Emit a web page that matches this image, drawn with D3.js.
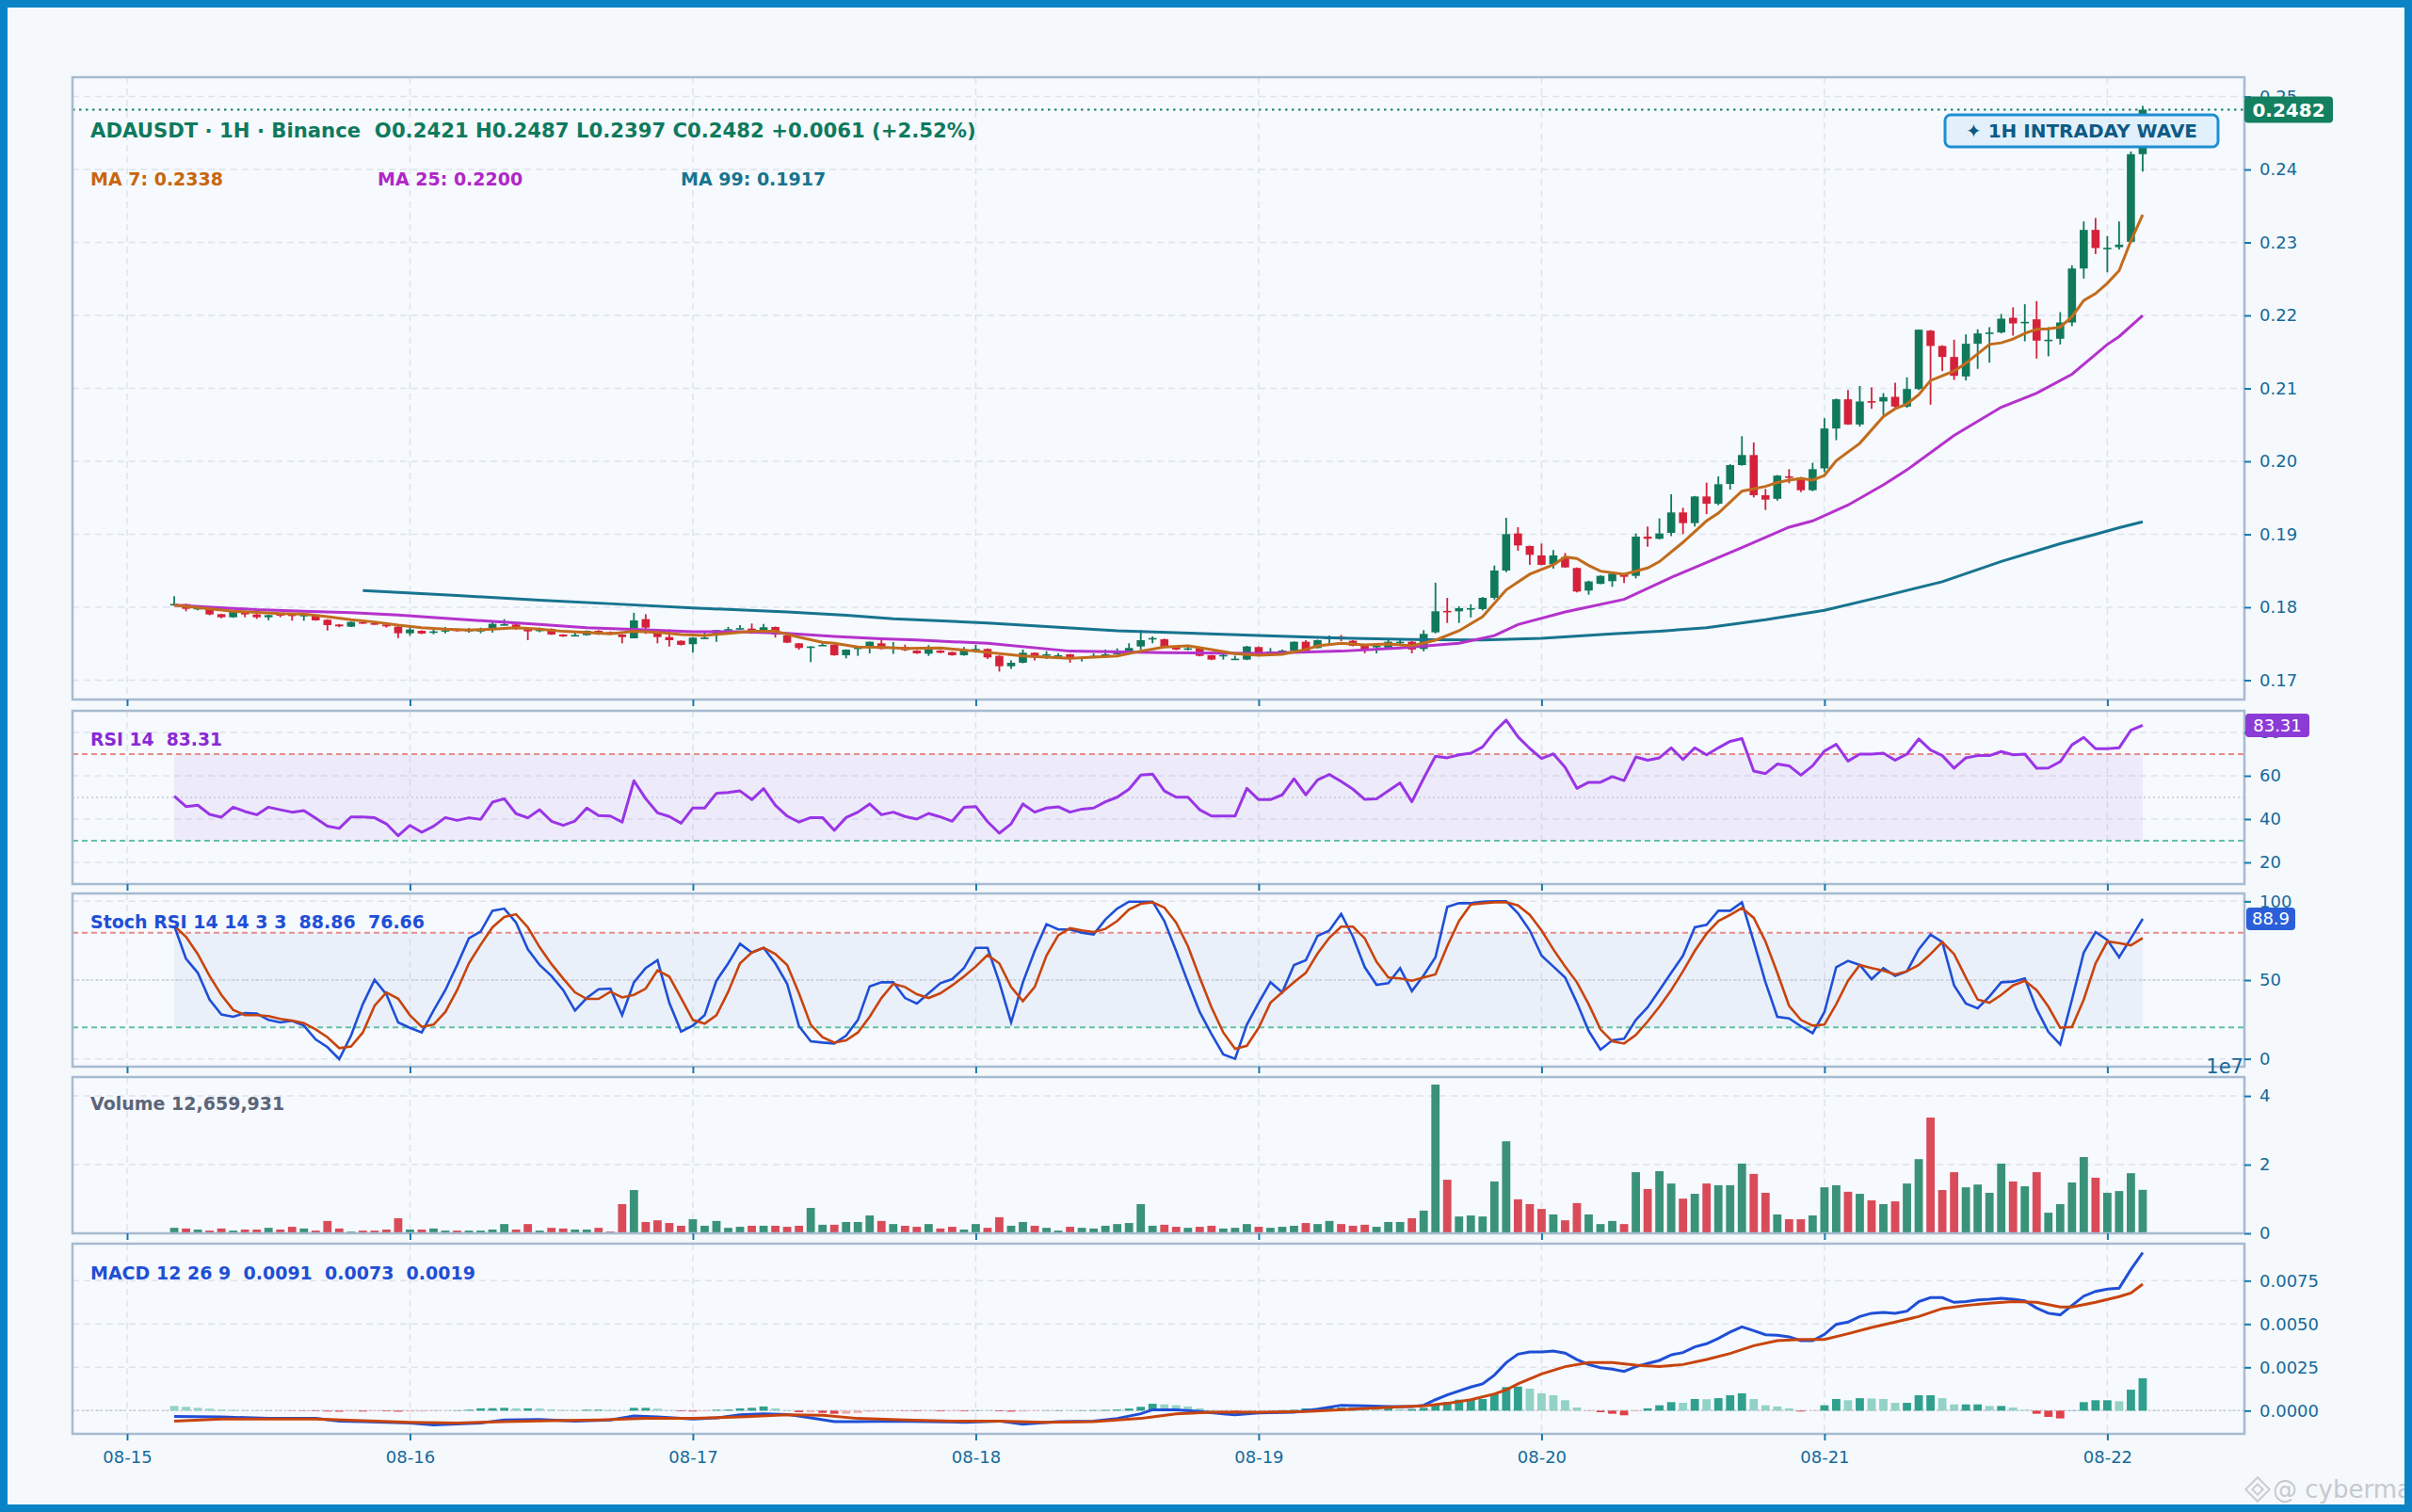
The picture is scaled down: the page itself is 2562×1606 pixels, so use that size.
<!DOCTYPE html>
<html>
<head>
<meta charset="utf-8">
<script src="https://cdn.jsdelivr.net/npm/d3@7"></script>
<style>
body { margin:0; background:#f5f9fc; }
svg { display:block; font-family:"DejaVu Sans", sans-serif; }
</style>
</head>
<body>
<svg id="chart" width="2562" height="1606"></svg>
<script>
// ---- data (hourly candles, 08-15 04:00 -> 08-22 03:00) ----
var dayLabels = ["08-15","08-16","08-17","08-18","08-19","08-20","08-21","08-22"];
var firstHour = 4;

var opens = [0.18035,0.18043,0.17975,0.17978,0.17905,0.17862,0.17944,0.17901,0.17862,0.17905,
0.179,0.1789,0.17892,0.17828,0.17763,0.17733,0.17795,0.1778,0.17763,0.17733,
0.17643,0.17677,0.17652,0.17682,0.177,0.17688,0.17684,0.177,0.17763,0.17763,
0.177,0.17688,0.17703,0.17626,0.17615,0.17617,0.17677,0.17659,0.17626,0.17574,
0.17837,0.17643,0.17591,0.1754,0.17493,0.17578,0.17613,0.17695,0.1771,0.17707,
0.17673,0.17729,0.17613,0.17505,0.17458,0.17479,0.17484,0.17342,0.17443,0.17454,
0.17505,0.17452,0.17454,0.17406,0.17363,0.17406,0.17385,0.17342,0.17424,0.17428,
0.17333,0.17191,0.17239,0.17376,0.1734,0.1734,0.17355,0.1729,0.17329,0.17333,
0.17355,0.17376,0.17462,0.17574,0.17561,0.17454,0.17434,0.17437,0.17342,0.1734,
0.1729,0.17282,0.17454,0.1739,0.17376,0.17406,0.17527,0.1744,0.17578,0.17595,
0.1754,0.17471,0.17467,0.17441,0.17524,0.17527,0.17428,0.17656,0.1795,0.17944,
0.17983,0.17975,0.18129,0.18503,0.19011,0.18839,0.1871,0.18589,0.18688,0.18538,
0.18228,0.1832,0.18357,0.18451,0.1843,0.18968,0.18938,0.19019,0.19299,0.19153,
0.19518,0.19419,0.1969,0.19948,0.20086,0.19535,0.19486,0.19794,0.19776,0.19604,
0.19903,0.2045,0.2085,0.20505,0.20825,0.2082,0.20884,0.2075,0.20991,0.21791,
0.21581,0.2143,0.21163,0.21611,0.2176,0.21766,0.21968,0.21905,0.21946,0.21663,
0.2168,0.21903,0.22643,0.23172,0.22923,0.22935,0.23009,0.2421];

var highs = [0.1815,0.18048,0.18,0.1799,0.1791,0.1794,0.1795,0.1791,0.17896,0.1792,
0.17905,0.1792,0.17898,0.17835,0.1777,0.17802,0.1782,0.178,0.1777,0.1774,
0.1773,0.17685,0.177,0.1773,0.17708,0.17715,0.1772,0.17794,0.17837,0.1777,
0.17705,0.1772,0.1771,0.1763,0.17665,0.17682,0.17685,0.17668,0.1763,0.17923,
0.17905,0.17677,0.17695,0.17545,0.1759,0.17655,0.1769,0.1773,0.17755,0.17776,
0.1777,0.17735,0.1762,0.1751,0.17466,0.17527,0.1749,0.17422,0.17462,0.1753,
0.17565,0.17522,0.17488,0.17412,0.1748,0.17412,0.1739,0.17454,0.17484,0.17435,
0.1734,0.17269,0.1742,0.1738,0.17398,0.1737,0.1736,0.1732,0.17368,0.1742,
0.17437,0.17506,0.17686,0.176,0.1757,0.1746,0.17465,0.17442,0.17346,0.17362,
0.17335,0.1747,0.1746,0.1744,0.1742,0.1753,0.17548,0.17555,0.17613,0.17621,
0.17548,0.17478,0.17478,0.17548,0.17565,0.17535,0.17686,0.18335,0.18129,0.18013,
0.1804,0.1814,0.18572,0.19226,0.19097,0.18845,0.18873,0.18783,0.18744,0.18545,
0.18365,0.18435,0.18468,0.1846,0.19011,0.19105,0.19217,0.19548,0.19363,0.19525,
0.19707,0.19794,0.1996,0.20344,0.20258,0.19622,0.19812,0.19892,0.19785,0.19978,
0.20591,0.2086,0.20978,0.21032,0.21013,0.20935,0.21077,0.21151,0.21808,0.218,
0.2159,0.21667,0.2174,0.21809,0.21839,0.2202,0.2211,0.22153,0.22196,0.21839,
0.22045,0.22686,0.23288,0.23335,0.23086,0.23288,0.24247,0.2487];

var lows = [0.1802,0.17944,0.17957,0.1789,0.17849,0.17855,0.17862,0.1784,0.1782,0.17862,
0.17815,0.17815,0.17815,0.1768,0.17725,0.17728,0.1777,0.1776,0.1772,0.17578,
0.1761,0.17632,0.1763,0.1764,0.17665,0.17652,0.17643,0.17652,0.1775,0.17695,
0.17548,0.17657,0.1762,0.17593,0.176,0.1761,0.1762,0.1764,0.17505,0.17574,
0.17634,0.17505,0.17462,0.17475,0.17376,0.17574,0.17527,0.17677,0.17695,0.17635,
0.17665,0.17583,0.17508,0.17419,0.17247,0.17475,0.17335,0.17299,0.17333,0.17367,
0.17422,0.1736,0.174,0.1736,0.17333,0.1737,0.17335,0.17335,0.17376,0.1729,
0.17118,0.17153,0.17232,0.17269,0.1729,0.17305,0.17239,0.17256,0.17325,0.17306,
0.1735,0.1737,0.1742,0.17505,0.17445,0.17412,0.1741,0.17326,0.17275,0.17282,
0.17278,0.17275,0.17348,0.17355,0.17368,0.174,0.174,0.17435,0.17484,0.17535,
0.17465,0.17368,0.17368,0.17435,0.17484,0.17368,0.17395,0.1764,0.17785,0.17785,
0.1786,0.17957,0.18105,0.1848,0.18774,0.18581,0.18575,0.18529,0.1854,0.18202,
0.18172,0.18315,0.1828,0.18331,0.18395,0.1883,0.1893,0.18975,0.19002,0.19105,
0.19277,0.19398,0.19613,0.1994,0.19505,0.19333,0.19461,0.19699,0.19578,0.1959,
0.19849,0.2029,0.205,0.20475,0.2072,0.20634,0.2073,0.20733,0.20978,0.20776,
0.21237,0.21116,0.21108,0.21267,0.21353,0.21753,0.21723,0.21645,0.21409,0.21439,
0.21602,0.21852,0.22505,0.22841,0.22591,0.22905,0.2299,0.2397];

var closes = [0.18045,0.17978,0.1799,0.17901,0.17862,0.17935,0.17901,0.17862,0.17892,0.179,
0.17892,0.17895,0.1782,0.17755,0.17738,0.17798,0.1779,0.17775,0.17738,0.17643,
0.17695,0.17639,0.17669,0.17686,0.17673,0.1769,0.17688,0.17772,0.17767,0.177,
0.17669,0.17692,0.17626,0.176,0.17619,0.17677,0.17626,0.17655,0.17591,0.1782,
0.1772,0.17591,0.17548,0.17484,0.17583,0.17583,0.17686,0.177,0.17713,0.17643,
0.17725,0.17626,0.17514,0.17441,0.17462,0.17484,0.17342,0.17419,0.17447,0.17527,
0.17428,0.17457,0.17411,0.17368,0.1742,0.17376,0.17342,0.17406,0.17428,0.17312,
0.17191,0.17239,0.17376,0.17312,0.17355,0.17342,0.1729,0.17312,0.17333,0.17355,
0.17376,0.17441,0.17548,0.17578,0.17454,0.1742,0.17437,0.17333,0.17282,0.17346,
0.17295,0.17462,0.17355,0.17394,0.17406,0.17527,0.17406,0.17548,0.17583,0.1759,
0.17471,0.1742,0.17471,0.17527,0.17527,0.1742,0.17634,0.17944,0.17944,0.17987,
0.17987,0.18129,0.18503,0.19002,0.18847,0.18718,0.18581,0.1871,0.18546,0.18215,
0.18353,0.1843,0.1846,0.18417,0.18968,0.18938,0.19011,0.19299,0.19153,0.19518,
0.19419,0.19686,0.19948,0.20086,0.19535,0.19475,0.19804,0.19776,0.19604,0.19892,
0.2045,0.2085,0.20505,0.2082,0.2082,0.2088,0.2075,0.20991,0.21804,0.21581,
0.2143,0.21172,0.21611,0.21753,0.21766,0.21955,0.2189,0.21912,0.21654,0.21667,
0.21903,0.22643,0.23172,0.22923,0.22927,0.2297,0.2421,0.2482];

// volume in millions
var volumes = [1.6,1.4,1.1,0.8,1.4,0.8,1.1,1.1,1.6,1.1,
1.9,1.4,0.8,3.6,1.4,0.5,0.8,0.8,1.1,4.4,
1.1,1.1,1.4,0.8,0.8,0.8,0.8,1.1,2.7,1.1,
2.7,0.8,1.6,1.4,1.1,1.1,1.6,0.5,8.5,12.6,
3.3,3.8,3.0,2.2,4.1,2.2,3.6,1.6,1.9,2.2,
2.2,2.2,1.9,2.2,7.4,2.5,2.5,3.3,3.3,5.2,
3.6,2.7,2.2,1.9,2.7,1.4,1.9,1.1,2.7,1.6,
4.7,2.2,3.3,2.2,1.6,0.8,1.9,1.6,1.4,2.2,
2.7,3.0,8.5,2.2,2.5,1.9,1.6,1.9,2.2,1.4,
1.6,2.7,1.9,1.6,1.9,2.2,3.0,2.7,3.6,2.7,
2.2,2.5,1.9,3.3,3.3,4.4,6.6,43.3,15.6,4.9,
5.2,4.9,15.1,26.8,9.9,8.5,7.1,5.5,3.8,8.8,
5.5,2.7,3.6,2.7,17.8,12.9,18.1,14.5,10.1,11.5,
14.5,14.0,14.0,20.3,17.3,11.8,5.5,4.1,4.1,5.2,
13.4,14.0,12.1,11.5,9.6,8.5,9.3,14.5,21.6,33.7,
12.6,17.8,13.4,14.2,11.8,20.3,15.1,13.7,17.8,6.0,
8.5,14.8,22.2,16.2,11.8,12.3,17.5,12.66];

// moving averages [candle index, value]
var ma7 = [[0,0.1803],[5,0.17944],[9,0.17914],[11,0.17905],[13,0.17871],[15,0.17828],[17,0.17798],[19,0.17755],
[21,0.1772],[23,0.17699],[25,0.17686],[27,0.17699],[29,0.1772],[31,0.17699],[33,0.17669],[35,0.17656],[37,0.17634],
[39,0.17669],[41,0.17656],[43,0.17626],[45,0.17613],[47,0.17643],[49,0.17669],[51,0.17669],[53,0.17591],[55,0.1752],
[56,0.17505],[58,0.17454],[60,0.1745],[62,0.17435],[65,0.17441],[68,0.17398],[72,0.17333],[76,0.17299],[80,0.17333],
[82,0.17398],[84,0.17455],[86,0.17471],[88,0.1742],[90,0.17363],[92,0.17342],[94,0.17355],[96,0.1742],[97,0.17471],
[99,0.17505],[101,0.17484],[103,0.17497],[105,0.17471],[107,0.17548],[109,0.17677],[111,0.17871],[113,0.18237],
[115,0.18452],[117,0.18581],[118,0.18688],[119,0.18667],[120,0.18572],[121,0.18495],[123,0.18452],[125,0.18538],
[126,0.18624],[128,0.1889],[130,0.19183],[131,0.1929],[133,0.19591],[135,0.19656],[136,0.1971],[137,0.19742],
[138,0.19763],[139,0.19742],[140,0.19806],[141,0.2001],[143,0.20247],[145,0.20613],[146,0.2072],[147,0.20785],
[148,0.20914],[149,0.21108],[150,0.21172],[151,0.21237],[152,0.21344],[153,0.21473],[154,0.21602],[155,0.21624],
[156,0.21675],[157,0.21753],[158,0.21809],[159,0.21817],[160,0.21839],[161,0.21981],[162,0.22204],[163,0.22299],
[164,0.22441],[165,0.22613],[166,0.23022],[167,0.2338]];
var ma25 = [[0,0.1803],[7,0.17966],[11,0.17944],[15,0.17927],[19,0.17892],[23,0.17849],[27,0.17806],[31,0.17763],
[35,0.1772],[40,0.1769],[44,0.17665],[48,0.17665],[52,0.17643],[56,0.176],[60,0.17566],[63,0.1755],[69,0.17505],
[76,0.17398],[84,0.17376],[92,0.17368],[99,0.17398],[104,0.17441],[107,0.1748],[109,0.17505],[112,0.1761],
[114,0.17763],[118,0.17935],[123,0.18108],[127,0.18409],[133,0.18817],[137,0.19097],[139,0.19183],[142,0.194],
[145,0.19677],[147,0.19882],[151,0.20355],[155,0.20742],[158,0.20935],[161,0.21194],[164,0.21602],[165,0.2171],[167,0.22]];
var ma99 = [[16,0.18228],[24,0.1816],[31,0.18095],[38,0.1804],[44,0.1799],[52,0.17935],[57,0.1789],[61,0.17841],
[69,0.17785],[80,0.17677],[92,0.17613],[99,0.17578],[105,0.17557],[111,0.17552],[116,0.17575],[122,0.17634],
[126,0.1767],[130,0.1772],[135,0.17828],[140,0.17957],[145,0.1815],[150,0.1835],[155,0.18627],[160,0.1887],
[163,0.19],[165,0.1909],[167,0.1917]];

var rsi = [50.6,45.8,46.4,42.2,40.9,45.5,43.5,42.0,45.5,44.3,
43.2,43.9,40.4,36.7,35.7,41.0,41.0,40.6,37.8,32.3,
37.1,33.9,36.7,40.7,39.4,40.6,39.9,47.8,49.4,42.5,
40.6,44.3,39.0,37.1,39.1,45.1,41.6,41.4,38.6,57.7,
49.4,42.9,41.2,38.1,45.1,45.1,51.9,52.3,53.0,49.0,
54.1,46.4,41.4,38.6,40.7,40.7,34.8,40.7,43.2,47.0,
42.0,43.2,41.2,40.0,42.6,41.0,39.0,45.4,45.8,38.8,
33.5,37.8,47.0,43.2,45.1,45.7,43.2,44.6,45.1,48.0,
50.1,53.8,60.3,60.8,53.0,50.1,50.1,44.3,41.4,41.4,
41.4,54.2,49.0,49.0,51.2,58.6,51.2,58.1,60.6,57.4,
53.8,49.1,49.4,53.0,56.7,48.0,58.8,69.0,68.3,69.7,
70.4,73.3,80.3,85.7,78.0,72.6,68.0,70.1,63.9,54.2,
57.0,57.0,59.6,57.8,68.7,67.2,68.3,72.9,67.5,72.9,
69.7,72.9,75.9,77.2,62.2,61.0,65.4,64.6,60.3,64.6,
71.4,74.5,66.8,70.0,70.0,70.4,67.2,70.0,77.0,71.9,
69.3,63.5,68.3,69.3,69.3,71.2,69.7,70.0,63.5,63.6,
66.5,74.3,77.7,72.5,72.5,72.9,81.0,83.31];

var stochK = [84.5,63.5,54.6,37.6,28.1,26.7,29.1,28.7,24.7,23.1,
24.1,21.1,12.3,7.4,-0.2,14.7,34.7,50.2,41.0,23.1,
19.7,16.7,30.7,43.6,59.6,76.5,80.9,94.0,95.4,86.5,
69.5,59.6,52.6,43.6,30.7,38.6,44.2,44.6,27.7,48.6,
57.6,62.6,35.6,17.3,21.1,27.7,49.6,60.6,73.1,67.5,
70.5,60.6,47.6,20.7,11.1,10.3,9.7,14.7,24.7,46.0,
48.6,48.6,38.6,35.1,41.6,48.0,50.6,57.6,70.5,70.5,
48.6,23.1,48.6,68.5,85.5,82.1,82.1,80.1,78.9,88.5,
95.4,99.8,99.8,99.8,87.5,68.5,48.6,29.7,15.7,2.8,
0,21.7,35.6,48.6,42.2,59.6,62.6,78.1,81.5,92.0,
77.5,58.2,47.0,48.0,57.6,43.0,53.0,64.5,96.4,98.8,
98.8,99.8,100,100,92.4,81.5,65.5,58.6,51.6,35.6,
17.7,5.8,11.7,12.7,24.7,32.7,43.6,54.6,65.5,83.5,
85.1,94.0,94.0,99.4,74.5,48.6,26.7,25.7,20.7,16.3,
29.7,58.2,62.2,59.6,50.6,57.6,52.6,55.6,69.5,78.9,
74.1,46.6,35.1,32.1,39.6,48.6,49.0,51.0,31.7,17.1,
9.1,37.6,67.5,80.5,75.5,64.5,76.5,88.86];

var stochD = [84.5,77.5,66.5,52.6,40.6,31.1,27.7,27.7,27.1,25.3,
24.3,22.7,18.7,13.7,6.8,7.8,16.7,33.7,42.2,38.2,
27.7,20.3,21.7,29.7,43.6,60.6,72.5,83.5,90.1,91.8,
83.5,70.9,60.2,51.0,42.2,38.0,38.0,42.6,39.0,40.6,
44.6,56.2,52.2,38.6,24.7,22.3,27.7,42.6,60.6,67.5,
70.5,66.5,59.6,41.6,21.7,13.7,10.3,11.7,16.7,26.7,
38.6,47.6,45.6,41.0,38.6,41.6,46.6,52.2,58.6,65.9,
60.6,45.6,36.6,45.6,65.5,78.5,82.9,81.5,80.5,82.5,
87.5,94.8,98.4,99.4,96.0,86.5,71.5,51.6,32.7,16.7,
6.4,8.3,19.7,35.6,42.2,48.6,54.6,66.9,76.9,83.9,
83.9,76.5,61.6,51.6,51.0,49.6,51.6,53.6,71.5,87.5,
98.0,98.8,99.4,99.4,97.4,91.4,81.5,69.5,58.6,48.6,
34.7,18.7,11.1,9.7,15.1,23.7,33.1,43.6,55.6,68.5,
79.5,87.5,91.4,95.8,89.5,74.5,54.6,33.7,24.7,21.1,
21.7,34.7,49.6,59.6,57.6,56.0,53.6,55.6,59.6,66.5,
74.1,66.5,51.6,37.6,35.6,40.6,46.6,49.6,43.6,33.1,
19.7,20.3,37.6,60.6,74.5,73.5,72.1,76.66];

var macdLine = [[0,-0.00033],[4,-0.00036],[8,-0.00045],[12,-0.00045],[14,-0.0006],[16,-0.00063],[20,-0.00072],
[22,-0.00082],[26,-0.00072],[28,-0.00054],[31,-0.00051],[34,-0.0006],[37,-0.00054],[39,-0.00031],[41,-0.00036],
[44,-0.00049],[46,-0.00042],[48,-0.00024],[50,-0.00018],[52,-0.00022],[54,-0.00042],[56,-0.00063],[58,-0.00063],
[61,-0.0006],[64,-0.00063],[67,-0.00067],[70,-0.0006],[72,-0.00078],[75,-0.00063],[78,-0.0006],[80,-0.00045],
[82,-0.00018],[83,0.00005],[85,0.00005],[87,-0.00005],[89,-0.00018],[90,-0.00024],[92,-0.00013],[95,-0.00009],
[97,0.00009],[99,0.00031],[101,0.00027],[103,0.00024],[105,0.00024],[106,0.00031],[107,0.00063],[108,0.00091],
[110,0.00136],[111,0.00154],[112,0.00205],[113,0.00277],[114,0.00326],[115,0.00339],[116,0.00339],[117,0.00344],
[118,0.00332],[119,0.00295],[120,0.00266],[121,0.00248],[122,0.00239],[123,0.00226],[124,0.00254],[125,0.00272],
[126,0.0029],[127,0.00322],[128,0.00335],[129,0.00368],[130,0.00386],[131,0.00417],[132,0.00453],[133,0.00484],
[134,0.00462],[135,0.00438],[136,0.00435],[137,0.00426],[138,0.00404],[139,0.00404],[140,0.0044],[141,0.00498],
[142,0.00511],[143,0.00543],[144,0.00562],[145,0.00567],[146,0.00562],[147,0.00574],[148,0.00629],[149,0.00652],
[150,0.00652],[151,0.00625],[152,0.00629],[153,0.00639],[154,0.00643],[155,0.00649],[156,0.00643],[157,0.00634],
[158,0.00592],[159,0.00562],[160,0.00553],[161,0.00607],[162,0.00661],[163,0.00688],[164,0.00701],[165,0.00707],
[166,0.00815],[167,0.00912]];
var signalLine = [[0,-0.0006],[4,-0.00049],[8,-0.00049],[12,-0.00049],[16,-0.00058],[20,-0.00067],[24,-0.00072],
[28,-0.00063],[32,-0.00058],[36,-0.00054],[40,-0.00045],[44,-0.00045],[48,-0.00036],[52,-0.00024],[55,-0.00027],
[58,-0.00045],[62,-0.00054],[66,-0.0006],[70,-0.0006],[74,-0.00067],[78,-0.00063],[82,-0.00045],[83,-0.00036],
[85,-0.00018],[88,-0.00009],[92,-0.00009],[96,-0.00005],[100,0.00009],[104,0.00022],[106,0.00027],[108,0.00042],
[110,0.00063],[112,0.00096],[113,0.0012],[114,0.00155],[116,0.00212],[118,0.00254],[120,0.00277],[122,0.00277],
[124,0.00263],[126,0.00254],[128,0.00266],[130,0.00295],[132,0.0033],[134,0.00375],[136,0.00404],[138,0.00411],
[140,0.00411],[142,0.00444],[144,0.0048],[146,0.00511],[148,0.00543],[150,0.00589],[152,0.00607],[154,0.0062],
[156,0.00629],[158,0.00625],[160,0.00598],[161,0.00598],[163,0.00625],[165,0.00658],[166,0.00679],[167,0.0073]];
var macdHist = [0.00027,0.00022,0.00016,0.00011,0.00006,0.00004,0.00002,0.00001,0.00001,0,
-0.00001,-0.00002,-0.00003,-0.00005,-0.00006,-0.00004,-0.00005,-0.00003,-0.00004,-0.00006,
-0.00005,-0.00005,-0.00003,-0.00001,0.00002,0.00005,0.00013,0.00014,0.00016,0.00013,
0.00013,0.00012,0.00006,0.00003,0.00002,0.00005,0.00005,0.00004,0.00001,0.00016,
0.00016,0.00011,0.00002,-0.00004,-0.00005,-0.00003,0.00005,0.00006,0.00013,0.00016,
0.00024,0.00013,0.00002,-0.00009,-0.00009,-0.00013,-0.00018,-0.00018,-0.00013,-0.00006,
-0.00003,-0.00001,-0.00002,-0.00003,-0.00002,-0.00004,-0.00003,-0.00004,0.00002,0.00001,
-0.00004,-0.00006,-0.00005,-0.00002,0.00001,0.00002,0.00001,0.00002,0.00003,0.00004,
0.00006,0.00012,0.00022,0.0004,0.00036,0.00031,0.00024,0.00013,0.00003,-0.00002,
-0.00005,-0.00002,0,0.00001,0.00003,0.00005,0.00013,0.0001,0.00018,0.00018,
0.00018,0.00013,0.00009,0.00013,0.00009,0.00009,0.00016,0.00036,0.00049,0.00063,
0.00063,0.00067,0.00096,0.00136,0.00139,0.00127,0.001,0.00089,0.0006,0.00018,
-0.00001,-0.00009,-0.00018,-0.00027,-0.00004,0.00013,0.00031,0.00049,0.00045,0.00067,
0.00066,0.00072,0.00089,0.001,0.00067,0.00031,0.00024,0.00013,-0.00005,-0.00001,
0.00031,0.00067,0.0006,0.00072,0.0007,0.00067,0.00045,0.00045,0.00089,0.00089,
0.00072,0.00036,0.00036,0.00036,0.00027,0.00027,0.00018,0.00005,-0.00018,-0.00036,
-0.00045,0.00002,0.00049,0.0006,0.0006,0.00054,0.00121,0.00187];

var priceTicks = [0.17,0.18,0.19,0.20,0.21,0.22,0.23,0.24,0.25];
var rsiTicks = [20,40,60,80];
var stochTicks = [0,50,100];
var volTicks = [0,2e7,4e7];
var macdTicks = [0,0.0025,0.005,0.0075];

var lastPrice = 0.2482;
var titleText = "ADAUSDT \u00b7 1H \u00b7 Binance  O0.2421 H0.2487 L0.2397 C0.2482 +0.0061 (+2.52%)";

// ---- drawing ----
var W = 2562, H = 1606;
var plotLeft = 77, plotRight = 2384;
var upColor = "#11795b", downColor = "#d5213a";
var tickColor = "#1a78ae", labelColor = "#17699a";

var svg = d3.select("#chart");
svg.append("rect").attr("width", W).attr("height", H).attr("fill", "#f5f9fc");

var xs = d3.scaleLinear().domain([-4.63, 179.63]).range([plotLeft, plotRight]);
function cx(i){ return xs(firstHour + i); }
var dayHours = dayLabels.map(function(d, k){ return k * 24; });

var panes = [
  {key:"main",  top:82,   bottom:743,  domain:[0.16735,0.25265], ticks:priceTicks, fmt:d3.format(".2f")},
  {key:"rsi",   top:755,  bottom:939,  domain:[10,90],           ticks:rsiTicks,   fmt:d3.format("d")},
  {key:"stoch", top:949,  bottom:1133, domain:[-5,105],          ticks:stochTicks, fmt:d3.format("d")},
  {key:"vol",   top:1144, bottom:1310, domain:[0,4.55e7],        ticks:volTicks,   fmt:function(d){ return String(d/1e7); }},
  {key:"macd",  top:1321, bottom:1523, domain:[-0.00134,0.009636], ticks:macdTicks, fmt:d3.format(".4f")}
];
var P = {};
var defs = svg.append("defs");
panes.forEach(function(p){
  p.y = d3.scaleLinear().domain(p.domain).range([p.bottom, p.top]);
  P[p.key] = p;
  defs.append("clipPath").attr("id", "clip-" + p.key)
    .append("rect").attr("x", plotLeft).attr("y", p.top)
    .attr("width", plotRight - plotLeft).attr("height", p.bottom - p.top);
  p.g = svg.append("g");
  p.g.append("rect").attr("x", plotLeft).attr("y", p.top)
    .attr("width", plotRight - plotLeft).attr("height", p.bottom - p.top)
    .attr("fill", "#f6f9fd");
  // grid
  p.g.selectAll(".vg").data(dayHours).enter().append("line")
    .attr("x1", function(d){ return xs(d); }).attr("x2", function(d){ return xs(d); })
    .attr("y1", p.top).attr("y2", p.bottom)
    .attr("stroke", "#dde4ec").attr("stroke-width", 1.5).attr("stroke-dasharray", "7,5");
  p.g.selectAll(".hg").data(p.ticks).enter().append("line")
    .attr("x1", plotLeft).attr("x2", plotRight)
    .attr("y1", function(d){ return p.y(d); }).attr("y2", function(d){ return p.y(d); })
    .attr("stroke", "#dde4ec").attr("stroke-width", 1.5).attr("stroke-dasharray", "7,5");
  p.body = p.g.append("g").attr("clip-path", "url(#clip-" + p.key + ")");
});

// ---- main pane: candles + MAs ----
var pm = P.main;
var idx = d3.range(opens.length);
var bodyW = 8.6;
pm.body.selectAll(".wick").data(idx).enter().append("line")
  .attr("x1", function(i){ return cx(i); }).attr("x2", function(i){ return cx(i); })
  .attr("y1", function(i){ return pm.y(highs[i]); }).attr("y2", function(i){ return pm.y(lows[i]); })
  .attr("stroke", function(i){ return closes[i] >= opens[i] ? upColor : downColor; })
  .attr("stroke-width", 1.8);
pm.body.selectAll(".body").data(idx).enter().append("rect")
  .attr("x", function(i){ return cx(i) - bodyW/2; })
  .attr("width", bodyW)
  .attr("y", function(i){ return pm.y(Math.max(opens[i], closes[i])); })
  .attr("height", function(i){ return Math.max(1.6, Math.abs(pm.y(opens[i]) - pm.y(closes[i]))); })
  .attr("fill", function(i){ return closes[i] >= opens[i] ? upColor : downColor; });

function pairLine(p){
  return d3.line().x(function(d){ return cx(d[0]); }).y(function(d){ return p.y(d[1]); });
}
pm.body.append("path").attr("d", pairLine(pm)(ma99)).attr("fill", "none").attr("stroke", "#17748f").attr("stroke-width", 3);
pm.body.append("path").attr("d", pairLine(pm)(ma25)).attr("fill", "none").attr("stroke", "#b532cc").attr("stroke-width", 3);
pm.body.append("path").attr("d", pairLine(pm)(ma7)).attr("fill", "none").attr("stroke", "#c26c1d").attr("stroke-width", 3);

pm.body.append("line").attr("x1", plotLeft).attr("x2", plotRight)
  .attr("y1", pm.y(lastPrice)).attr("y2", pm.y(lastPrice))
  .attr("stroke", "#17805f").attr("stroke-width", 2.2).attr("stroke-dasharray", "2.5,4.5");

// ---- RSI ----
var pr = P.rsi;
pr.body.append("rect").attr("x", cx(0)).attr("width", cx(167) - cx(0))
  .attr("y", pr.y(70)).attr("height", pr.y(30) - pr.y(70))
  .attr("fill", "#8a4fd8").attr("fill-opacity", 0.08);
pr.body.append("line").attr("x1", plotLeft).attr("x2", plotRight).attr("y1", pr.y(50)).attr("y2", pr.y(50))
  .attr("stroke", "#c3cad3").attr("stroke-width", 1.5).attr("stroke-dasharray", "2,3");
pr.body.append("line").attr("x1", plotLeft).attr("x2", plotRight).attr("y1", pr.y(70)).attr("y2", pr.y(70))
  .attr("stroke", "#e98b8b").attr("stroke-width", 2).attr("stroke-dasharray", "6,4");
pr.body.append("line").attr("x1", plotLeft).attr("x2", plotRight).attr("y1", pr.y(30)).attr("y2", pr.y(30))
  .attr("stroke", "#63c2a5").attr("stroke-width", 2).attr("stroke-dasharray", "6,4");
function seriesLine(p){
  return d3.line().x(function(d, i){ return cx(i); }).y(function(d){ return p.y(d); });
}
pr.body.append("path").attr("d", seriesLine(pr)(rsi)).attr("fill", "none")
  .attr("stroke", "#9a35e6").attr("stroke-width", 3).attr("stroke-linejoin", "round");

// ---- Stoch RSI ----
var ps = P.stoch;
ps.body.append("rect").attr("x", cx(0)).attr("width", cx(167) - cx(0))
  .attr("y", ps.y(80)).attr("height", ps.y(20) - ps.y(80))
  .attr("fill", "#5a7fd0").attr("fill-opacity", 0.07);
ps.body.append("line").attr("x1", plotLeft).attr("x2", plotRight).attr("y1", ps.y(50)).attr("y2", ps.y(50))
  .attr("stroke", "#c3cad3").attr("stroke-width", 1.5).attr("stroke-dasharray", "2,3");
ps.body.append("line").attr("x1", plotLeft).attr("x2", plotRight).attr("y1", ps.y(80)).attr("y2", ps.y(80))
  .attr("stroke", "#e98b8b").attr("stroke-width", 2).attr("stroke-dasharray", "6,4");
ps.body.append("line").attr("x1", plotLeft).attr("x2", plotRight).attr("y1", ps.y(20)).attr("y2", ps.y(20))
  .attr("stroke", "#63c2a5").attr("stroke-width", 2).attr("stroke-dasharray", "6,4");
ps.body.append("path").attr("d", seriesLine(ps)(stochK)).attr("fill", "none")
  .attr("stroke", "#1f4fd6").attr("stroke-width", 2.6);
ps.body.append("path").attr("d", seriesLine(ps)(stochD)).attr("fill", "none")
  .attr("stroke", "#c8440e").attr("stroke-width", 2.6);

// ---- Volume ----
var pv = P.vol;
pv.body.selectAll(".vbar").data(idx).enter().append("rect")
  .attr("x", function(i){ return cx(i) - 4.4; })
  .attr("width", 8.8)
  .attr("y", function(i){ return pv.y(volumes[i] * 1e6); })
  .attr("height", function(i){ return pv.y(0) - pv.y(volumes[i] * 1e6); })
  .attr("fill", function(i){ return closes[i] >= opens[i] ? "#3a9279" : "#d94b59"; });

// ---- MACD ----
var pc = P.macd;
pc.body.append("line").attr("x1", plotLeft).attr("x2", plotRight).attr("y1", pc.y(0)).attr("y2", pc.y(0))
  .attr("stroke", "#c3cad3").attr("stroke-width", 1.5).attr("stroke-dasharray", "2,3");
pc.body.selectAll(".hbar").data(idx).enter().append("rect")
  .attr("x", function(i){ return cx(i) - 4.4; })
  .attr("width", 8.8)
  .attr("y", function(i){ return pc.y(Math.max(0, macdHist[i])); })
  .attr("height", function(i){ return Math.abs(pc.y(macdHist[i]) - pc.y(0)); })
  .attr("fill", function(i){
    var h = macdHist[i], prev = i > 0 ? macdHist[i-1] : null;
    if (h >= 0) return (prev !== null && h >= prev) ? "#2fa08e" : "#93d2c6";
    return (prev !== null && h < prev) ? "#e0404a" : "#f0a9ab";
  });
pc.body.append("path").attr("d", pairLine(pc)(macdLine)).attr("fill", "none")
  .attr("stroke", "#1f4fd6").attr("stroke-width", 3);
pc.body.append("path").attr("d", pairLine(pc)(signalLine)).attr("fill", "none")
  .attr("stroke", "#c8440e").attr("stroke-width", 3);

// ---- borders and axes ----
panes.forEach(function(p, k){
  p.g.append("rect").attr("x", plotLeft).attr("y", p.top)
    .attr("width", plotRight - plotLeft).attr("height", p.bottom - p.top)
    .attr("fill", "none").attr("stroke", "#a7bbd0").attr("stroke-width", 2.5);
  var ya = svg.append("g").attr("transform", "translate(" + plotRight + ",0)")
    .call(d3.axisRight(p.y).tickValues(p.ticks).tickSize(7).tickPadding(9).tickFormat(p.fmt));
  ya.select(".domain").remove();
  ya.selectAll("line").attr("stroke", tickColor).attr("stroke-width", 2);
  ya.selectAll("text").attr("fill", labelColor).attr("font-size", 18).attr("font-family", "DejaVu Sans");
  var last = k === panes.length - 1;
  var xa = svg.append("g").attr("transform", "translate(0," + p.bottom + ")")
    .call(d3.axisBottom(xs).tickValues(dayHours).tickSize(7).tickPadding(11)
      .tickFormat(function(d, j){ return last ? dayLabels[j] : ""; }));
  xa.select(".domain").remove();
  xa.selectAll("line").attr("stroke", tickColor).attr("stroke-width", 2);
  xa.selectAll("text").attr("fill", labelColor).attr("font-size", 18).attr("font-family", "DejaVu Sans");
});

svg.append("text").attr("x", 2383).attr("y", 1140).attr("text-anchor", "end")
  .attr("font-size", 21).attr("fill", labelColor).text("1e7");

// ---- pane captions ----
function caption(x, y, txt, color, size){
  svg.append("text").attr("x", x).attr("y", y)
    .attr("xml:space", "preserve").style("white-space", "pre")
    .attr("font-size", size).attr("font-weight", "bold").attr("fill", color).text(txt);
}
caption(96, 146, titleText, "#0f7a5e", 21.2);
caption(96, 197, "MA 7: 0.2338", "#c8660f", 19);
caption(401, 197, "MA 25: 0.2200", "#b027c8", 19);
caption(723, 197, "MA 99: 0.1917", "#17748f", 19);
caption(96, 792, "RSI 14  83.31", "#8a2ad6", 18.8);
caption(96, 986, "Stoch RSI 14 14 3 3  88.86  76.66", "#1f4fd6", 19);
caption(96, 1179, "Volume 12,659,931", "#5b6579", 19);
caption(96, 1359, "MACD 12 26 9  0.0091  0.0073  0.0019", "#1f4fd6", 19);

// ---- value tags on the right ----
function tag(x, yc, w, h, txt, fill, bold, size){
  svg.append("rect").attr("x", x).attr("y", yc - h/2).attr("width", w).attr("height", h)
    .attr("rx", 4).attr("fill", fill);
  svg.append("text").attr("x", x + w/2).attr("y", yc).attr("dy", "0.36em")
    .attr("text-anchor", "middle").attr("fill", "#ffffff")
    .attr("font-size", size).attr("font-weight", bold ? "bold" : "normal").text(txt);
}
tag(2384, pm.y(lastPrice), 94, 28, "0.2482", "#13805f", true, 20);
tag(2385, pr.y(83.31), 68, 25, "83.31", "#8b3bd6", false, 18);
tag(2386, ps.y(88.86), 52, 24, "88.9", "#2b5fd9", false, 18);

// ---- badge ----
svg.append("rect").attr("x", 2066).attr("y", 122).attr("width", 290).attr("height", 34)
  .attr("rx", 6).attr("fill", "#e2f0fb").attr("stroke", "#1f8fd0").attr("stroke-width", 3);
svg.append("text").attr("x", 2211).attr("y", 139).attr("dy", "0.36em").attr("text-anchor", "middle")
  .attr("font-size", 20).attr("font-weight", "bold").attr("fill", "#0d5a85")
  .text("\u2726 1H INTRADAY WAVE");

// ---- watermark ----
var wm = svg.append("g").attr("transform", "translate(2398,1582)").attr("fill", "none")
  .attr("stroke", "#c9cdd2").attr("stroke-width", 2);
wm.append("rect").attr("x", -9).attr("y", -9).attr("width", 18).attr("height", 18).attr("transform", "rotate(45)");
wm.append("rect").attr("x", -4).attr("y", -4).attr("width", 8).attr("height", 8).attr("transform", "rotate(45)");
svg.append("text").attr("x", 2414).attr("y", 1591).attr("font-size", 26).attr("fill", "#c5c9ce")
  .text("@ cyberman");

// ---- frame ----
svg.append("rect").attr("x", 4).attr("y", 4).attr("width", W - 8).attr("height", H - 8)
  .attr("fill", "none").attr("stroke", "#0a84c6").attr("stroke-width", 8);
</script>
</body>
</html>
